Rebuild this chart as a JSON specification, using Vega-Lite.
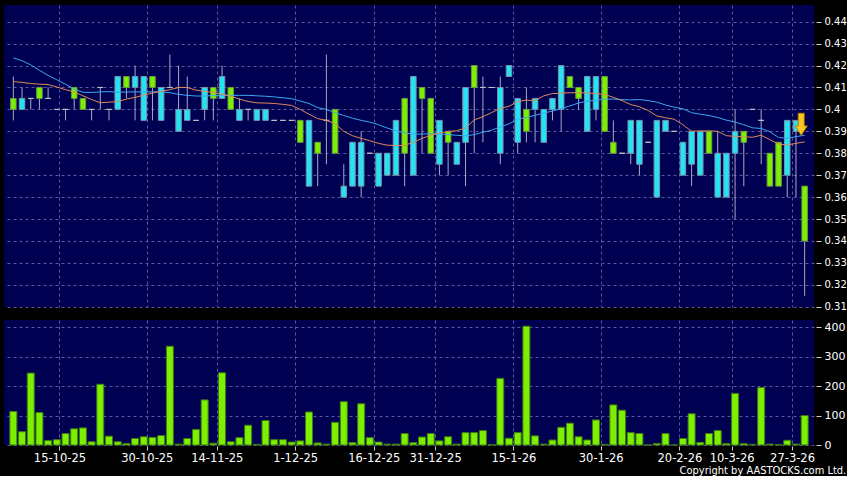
{
  "$schema": "https://vega.github.io/schema/vega-lite/v6.json",
  "background": "#000000",
  "padding": {"left": 4, "top": 5, "right": 0, "bottom": 0},
  "spacing": 8,
  "config": {
    "view": {"fill": "#000052", "stroke": null},
    "axis": {"gridColor": "#5a5a9a", "gridDash": [3, 3], "gridWidth": 1, "labelColor": "#ffffff", "tickColor": "#d0d0d0", "domain": false, "labelFont": "DejaVu Sans", "title": null}
  },
  "title": {"text": "Copyright by AASTOCKS.com Ltd.", "orient": "bottom", "anchor": "end", "color": "#ffffff", "fontSize": 11, "font": "Liberation Sans Narrow, DejaVu Sans Condensed, Liberation Sans", "fontWeight": "normal", "offset": 1},
  "datasets": {
    "d": [
      {"i": 0, "o": 0.400, "h": 0.415, "l": 0.395, "c": 0.405, "v": 114, "m1": 0.4127, "m2": 0.4235},
      {"i": 1, "o": 0.405, "h": 0.410, "l": 0.400, "c": 0.400, "v": 45, "m1": 0.4123, "m2": 0.4222},
      {"i": 2, "o": 0.405, "h": 0.405, "l": 0.400, "c": 0.405, "v": 244, "m1": 0.4118, "m2": 0.4203},
      {"i": 3, "o": 0.405, "h": 0.410, "l": 0.400, "c": 0.410, "v": 110, "m1": 0.4115, "m2": 0.4178},
      {"i": 4, "o": 0.405, "h": 0.410, "l": 0.405, "c": 0.405, "v": 15, "m1": 0.4113, "m2": 0.4155},
      {"i": 5, "o": 0.400, "h": 0.400, "l": 0.400, "c": 0.400, "v": 18, "m1": 0.4102, "m2": 0.4135},
      {"i": 6, "o": 0.400, "h": 0.400, "l": 0.395, "c": 0.400, "v": 39, "m1": 0.4090, "m2": 0.4115},
      {"i": 7, "o": 0.405, "h": 0.410, "l": 0.400, "c": 0.410, "v": 55, "m1": 0.4080, "m2": 0.4092},
      {"i": 8, "o": 0.400, "h": 0.405, "l": 0.400, "c": 0.405, "v": 58, "m1": 0.4062, "m2": 0.4078},
      {"i": 9, "o": 0.400, "h": 0.400, "l": 0.395, "c": 0.400, "v": 11, "m1": 0.4045, "m2": 0.4077},
      {"i": 10, "o": 0.410, "h": 0.410, "l": 0.400, "c": 0.410, "v": 206, "m1": 0.4030, "m2": 0.4080},
      {"i": 11, "o": 0.400, "h": 0.400, "l": 0.395, "c": 0.400, "v": 30, "m1": 0.4033, "m2": 0.4081},
      {"i": 12, "o": 0.415, "h": 0.415, "l": 0.400, "c": 0.400, "v": 11, "m1": 0.4036, "m2": 0.4078},
      {"i": 13, "o": 0.410, "h": 0.415, "l": 0.405, "c": 0.415, "v": 5, "m1": 0.4047, "m2": 0.4079},
      {"i": 14, "o": 0.415, "h": 0.420, "l": 0.395, "c": 0.410, "v": 22, "m1": 0.4055, "m2": 0.4080},
      {"i": 15, "o": 0.415, "h": 0.415, "l": 0.395, "c": 0.395, "v": 28, "m1": 0.4065, "m2": 0.4080},
      {"i": 16, "o": 0.410, "h": 0.415, "l": 0.395, "c": 0.415, "v": 26, "m1": 0.4075, "m2": 0.4080},
      {"i": 17, "o": 0.410, "h": 0.410, "l": 0.395, "c": 0.395, "v": 32, "m1": 0.4082, "m2": 0.4080},
      {"i": 18, "o": 0.410, "h": 0.425, "l": 0.410, "c": 0.410, "v": 335, "m1": 0.4090, "m2": 0.4076},
      {"i": 19, "o": 0.400, "h": 0.420, "l": 0.390, "c": 0.390, "v": 3, "m1": 0.4100, "m2": 0.4069},
      {"i": 20, "o": 0.400, "h": 0.415, "l": 0.395, "c": 0.395, "v": 22, "m1": 0.4100, "m2": 0.4064},
      {"i": 21, "o": 0.395, "h": 0.395, "l": 0.395, "c": 0.395, "v": 53, "m1": 0.4088, "m2": 0.4061},
      {"i": 22, "o": 0.410, "h": 0.410, "l": 0.395, "c": 0.400, "v": 153, "m1": 0.4082, "m2": 0.4061},
      {"i": 23, "o": 0.405, "h": 0.410, "l": 0.395, "c": 0.410, "v": 6, "m1": 0.4077, "m2": 0.4063},
      {"i": 24, "o": 0.415, "h": 0.420, "l": 0.405, "c": 0.405, "v": 245, "m1": 0.4069, "m2": 0.4064},
      {"i": 25, "o": 0.400, "h": 0.410, "l": 0.400, "c": 0.410, "v": 11, "m1": 0.4060, "m2": 0.4064},
      {"i": 26, "o": 0.400, "h": 0.405, "l": 0.395, "c": 0.395, "v": 25, "m1": 0.4047, "m2": 0.4064},
      {"i": 27, "o": 0.400, "h": 0.400, "l": 0.395, "c": 0.400, "v": 67, "m1": 0.4036, "m2": 0.4064},
      {"i": 28, "o": 0.400, "h": 0.400, "l": 0.395, "c": 0.395, "v": 2, "m1": 0.4030, "m2": 0.4062},
      {"i": 29, "o": 0.400, "h": 0.400, "l": 0.395, "c": 0.395, "v": 83, "m1": 0.4029, "m2": 0.4060},
      {"i": 30, "o": 0.395, "h": 0.395, "l": 0.395, "c": 0.395, "v": 18, "m1": 0.4027, "m2": 0.4057},
      {"i": 31, "o": 0.395, "h": 0.395, "l": 0.395, "c": 0.395, "v": 18, "m1": 0.4023, "m2": 0.4053},
      {"i": 32, "o": 0.395, "h": 0.395, "l": 0.395, "c": 0.395, "v": 10, "m1": 0.4018, "m2": 0.4049},
      {"i": 33, "o": 0.385, "h": 0.395, "l": 0.385, "c": 0.395, "v": 14, "m1": 0.4000, "m2": 0.4038},
      {"i": 34, "o": 0.395, "h": 0.395, "l": 0.365, "c": 0.365, "v": 112, "m1": 0.3978, "m2": 0.4027},
      {"i": 35, "o": 0.380, "h": 0.385, "l": 0.365, "c": 0.385, "v": 7, "m1": 0.3958, "m2": 0.4008},
      {"i": 36, "o": 0.395, "h": 0.425, "l": 0.375, "c": 0.395, "v": 3, "m1": 0.3950, "m2": 0.4000},
      {"i": 37, "o": 0.380, "h": 0.400, "l": 0.380, "c": 0.400, "v": 77, "m1": 0.3935, "m2": 0.3985},
      {"i": 38, "o": 0.365, "h": 0.375, "l": 0.360, "c": 0.360, "v": 147, "m1": 0.3900, "m2": 0.3972},
      {"i": 39, "o": 0.385, "h": 0.385, "l": 0.365, "c": 0.365, "v": 8, "m1": 0.3880, "m2": 0.3960},
      {"i": 40, "o": 0.385, "h": 0.390, "l": 0.360, "c": 0.365, "v": 140, "m1": 0.3868, "m2": 0.3950},
      {"i": 41, "o": 0.380, "h": 0.380, "l": 0.380, "c": 0.380, "v": 25, "m1": 0.3857, "m2": 0.3942},
      {"i": 42, "o": 0.380, "h": 0.380, "l": 0.365, "c": 0.365, "v": 10, "m1": 0.3845, "m2": 0.3930},
      {"i": 43, "o": 0.380, "h": 0.380, "l": 0.370, "c": 0.370, "v": 3, "m1": 0.3837, "m2": 0.3915},
      {"i": 44, "o": 0.395, "h": 0.395, "l": 0.370, "c": 0.370, "v": 3, "m1": 0.3835, "m2": 0.3902},
      {"i": 45, "o": 0.380, "h": 0.405, "l": 0.365, "c": 0.405, "v": 39, "m1": 0.3836, "m2": 0.3893},
      {"i": 46, "o": 0.415, "h": 0.415, "l": 0.370, "c": 0.370, "v": 8, "m1": 0.3850, "m2": 0.3887},
      {"i": 47, "o": 0.405, "h": 0.410, "l": 0.380, "c": 0.410, "v": 27, "m1": 0.3868, "m2": 0.3888},
      {"i": 48, "o": 0.380, "h": 0.405, "l": 0.380, "c": 0.405, "v": 39, "m1": 0.3882, "m2": 0.3889},
      {"i": 49, "o": 0.395, "h": 0.395, "l": 0.370, "c": 0.375, "v": 14, "m1": 0.3892, "m2": 0.3888},
      {"i": 50, "o": 0.385, "h": 0.390, "l": 0.370, "c": 0.390, "v": 28, "m1": 0.3899, "m2": 0.3885},
      {"i": 51, "o": 0.385, "h": 0.385, "l": 0.375, "c": 0.375, "v": 3, "m1": 0.3903, "m2": 0.3882},
      {"i": 52, "o": 0.410, "h": 0.410, "l": 0.365, "c": 0.385, "v": 42, "m1": 0.3915, "m2": 0.3879},
      {"i": 53, "o": 0.410, "h": 0.420, "l": 0.380, "c": 0.420, "v": 42, "m1": 0.3952, "m2": 0.3885},
      {"i": 54, "o": 0.410, "h": 0.415, "l": 0.385, "c": 0.410, "v": 49, "m1": 0.3967, "m2": 0.3896},
      {"i": 55, "o": 0.410, "h": 0.410, "l": 0.410, "c": 0.410, "v": 1, "m1": 0.3985, "m2": 0.3905},
      {"i": 56, "o": 0.410, "h": 0.415, "l": 0.375, "c": 0.380, "v": 226, "m1": 0.4005, "m2": 0.3920},
      {"i": 57, "o": 0.420, "h": 0.420, "l": 0.415, "c": 0.415, "v": 23, "m1": 0.4014, "m2": 0.3934},
      {"i": 58, "o": 0.405, "h": 0.405, "l": 0.380, "c": 0.385, "v": 42, "m1": 0.4036, "m2": 0.3955},
      {"i": 59, "o": 0.390, "h": 0.410, "l": 0.385, "c": 0.400, "v": 403, "m1": 0.4042, "m2": 0.3963},
      {"i": 60, "o": 0.405, "h": 0.405, "l": 0.385, "c": 0.400, "v": 31, "m1": 0.4040, "m2": 0.3973},
      {"i": 61, "o": 0.400, "h": 0.400, "l": 0.385, "c": 0.385, "v": 3, "m1": 0.4062, "m2": 0.3983},
      {"i": 62, "o": 0.405, "h": 0.405, "l": 0.395, "c": 0.400, "v": 17, "m1": 0.4072, "m2": 0.3993},
      {"i": 63, "o": 0.420, "h": 0.420, "l": 0.390, "c": 0.400, "v": 60, "m1": 0.4074, "m2": 0.4003},
      {"i": 64, "o": 0.410, "h": 0.415, "l": 0.410, "c": 0.415, "v": 74, "m1": 0.4076, "m2": 0.4016},
      {"i": 65, "o": 0.405, "h": 0.410, "l": 0.400, "c": 0.410, "v": 28, "m1": 0.4076, "m2": 0.4029},
      {"i": 66, "o": 0.415, "h": 0.415, "l": 0.390, "c": 0.390, "v": 17, "m1": 0.4075, "m2": 0.4038},
      {"i": 67, "o": 0.415, "h": 0.415, "l": 0.395, "c": 0.400, "v": 85, "m1": 0.4072, "m2": 0.4041},
      {"i": 68, "o": 0.390, "h": 0.415, "l": 0.390, "c": 0.415, "v": 2, "m1": 0.4068, "m2": 0.4047},
      {"i": 69, "o": 0.380, "h": 0.395, "l": 0.380, "c": 0.385, "v": 136, "m1": 0.4055, "m2": 0.4047},
      {"i": 70, "o": 0.380, "h": 0.380, "l": 0.380, "c": 0.380, "v": 118, "m1": 0.4040, "m2": 0.4045},
      {"i": 71, "o": 0.395, "h": 0.395, "l": 0.375, "c": 0.380, "v": 42, "m1": 0.4022, "m2": 0.4043},
      {"i": 72, "o": 0.395, "h": 0.395, "l": 0.370, "c": 0.375, "v": 39, "m1": 0.4012, "m2": 0.4045},
      {"i": 73, "o": 0.385, "h": 0.385, "l": 0.385, "c": 0.385, "v": 0, "m1": 0.3995, "m2": 0.4040},
      {"i": 74, "o": 0.395, "h": 0.395, "l": 0.360, "c": 0.360, "v": 5, "m1": 0.3970, "m2": 0.4033},
      {"i": 75, "o": 0.395, "h": 0.395, "l": 0.390, "c": 0.390, "v": 39, "m1": 0.3962, "m2": 0.4020},
      {"i": 76, "o": 0.390, "h": 0.390, "l": 0.390, "c": 0.390, "v": 0, "m1": 0.3955, "m2": 0.4010},
      {"i": 77, "o": 0.385, "h": 0.385, "l": 0.370, "c": 0.370, "v": 22, "m1": 0.3930, "m2": 0.4003},
      {"i": 78, "o": 0.390, "h": 0.390, "l": 0.365, "c": 0.375, "v": 106, "m1": 0.3900, "m2": 0.3985},
      {"i": 79, "o": 0.390, "h": 0.390, "l": 0.370, "c": 0.370, "v": 9, "m1": 0.3902, "m2": 0.3978},
      {"i": 80, "o": 0.380, "h": 0.390, "l": 0.380, "c": 0.390, "v": 39, "m1": 0.3902, "m2": 0.3972},
      {"i": 81, "o": 0.380, "h": 0.390, "l": 0.360, "c": 0.360, "v": 49, "m1": 0.3900, "m2": 0.3963},
      {"i": 82, "o": 0.380, "h": 0.380, "l": 0.360, "c": 0.360, "v": 5, "m1": 0.3880, "m2": 0.3951},
      {"i": 83, "o": 0.390, "h": 0.400, "l": 0.350, "c": 0.380, "v": 175, "m1": 0.3877, "m2": 0.3942},
      {"i": 84, "o": 0.385, "h": 0.390, "l": 0.365, "c": 0.390, "v": 5, "m1": 0.3875, "m2": 0.3930},
      {"i": 85, "o": 0.400, "h": 0.400, "l": 0.400, "c": 0.400, "v": 2, "m1": 0.3873, "m2": 0.3916},
      {"i": 86, "o": 0.395, "h": 0.400, "l": 0.375, "c": 0.395, "v": 195, "m1": 0.3882, "m2": 0.3913},
      {"i": 87, "o": 0.365, "h": 0.380, "l": 0.365, "c": 0.380, "v": 3, "m1": 0.3862, "m2": 0.3898},
      {"i": 88, "o": 0.365, "h": 0.385, "l": 0.365, "c": 0.385, "v": 1, "m1": 0.3842, "m2": 0.3872},
      {"i": 89, "o": 0.395, "h": 0.395, "l": 0.360, "c": 0.370, "v": 16, "m1": 0.3838, "m2": 0.3868},
      {"i": 90, "o": 0.395, "h": 0.395, "l": 0.360, "c": 0.390, "v": 3, "m1": 0.3845, "m2": 0.3876},
      {"i": 91, "o": 0.340, "h": 0.365, "l": 0.315, "c": 0.365, "v": 100, "m1": 0.3852, "m2": 0.3882}
    ],
    "arrow": [{"i": 90.6, "p": 0.3932}]
  },
  "vconcat": [
    {
      "width": 810,
      "height": 302,
      "data": {"name": "d"},
      "layer": [
        {
          "mark": {"type": "rule", "color": "#a8a8c0", "strokeWidth": 1},
          "encoding": {
            "x": {"field": "i", "type": "quantitative", "scale": {"domain": [-0.5, 91.5], "nice": false, "zero": false},
                  "axis": {"values": [5.3, 15.35, 23.4, 32.4, 41.45, 48.5, 57.5, 67.55, 76.6, 82.6, 89.55], "tickCount": 30, "grid": true, "labels": false, "ticks": false, "domain": false}},
            "y": {"field": "l", "type": "quantitative", "scale": {"domain": [0.3099, 0.4476], "nice": false, "zero": false},
                  "axis": {"orient": "right", "values": [0.31, 0.32, 0.33, 0.34, 0.35, 0.36, 0.37, 0.38, 0.39, 0.4, 0.41, 0.42, 0.43, 0.44], "tickCount": 30, "format": ".2~f", "grid": true, "tickSize": 5, "offset": 2, "labelPadding": 3, "labelFontSize": 10, "labelFlush": false, "labelOverlap": false}},
            "y2": {"field": "h"}
          }
        },
        {
          "mark": {"type": "bar", "width": 5.5, "strokeWidth": 1},
          "encoding": {
            "x": {"field": "i", "type": "quantitative"},
            "y": {"field": "o", "type": "quantitative"},
            "y2": {"field": "c"},
            "fill": {"condition": [{"test": "datum.c > datum.o", "value": "#7cf000"}, {"test": "datum.c < datum.o", "value": "#24e4f4"}], "value": "#c0c0c8"},
            "stroke": {"condition": [{"test": "datum.c > datum.o", "value": "#6a9a40"}, {"test": "datum.c < datum.o", "value": "#7890a8"}], "value": "#c0c0c8"}
          }
        },
        {
          "mark": {"type": "line", "color": "#3aa8f0", "strokeWidth": 1},
          "encoding": {"x": {"field": "i", "type": "quantitative"}, "y": {"field": "m2", "type": "quantitative"}}
        },
        {
          "mark": {"type": "line", "color": "#e08a58", "strokeWidth": 1},
          "encoding": {"x": {"field": "i", "type": "quantitative"}, "y": {"field": "m1", "type": "quantitative"}}
        },
        {
          "data": {"name": "arrow"},
          "mark": {"type": "point", "shape": "M-0.27,-1 L0.27,-1 L0.27,0.15 L0.55,0.15 L0,1 L-0.55,0.15 L-0.27,0.15 Z", "size": 484, "filled": true, "fill": "#f8c820", "stroke": "#c08000", "strokeWidth": 1, "opacity": 1},
          "encoding": {"x": {"field": "i", "type": "quantitative"}, "y": {"field": "p", "type": "quantitative"}}
        }
      ]
    },
    {
      "width": 810,
      "height": 125,
      "data": {"name": "d"},
      "mark": {"type": "bar", "width": 7, "fill": "#7cf000", "stroke": "#3f7a10", "strokeWidth": 1},
      "encoding": {
        "x": {"field": "i", "type": "quantitative", "scale": {"domain": [-0.5, 91.5], "nice": false, "zero": false},
              "axis": {"values": [5.3, 15.35, 23.4, 32.4, 41.45, 48.5, 57.5, 67.55, 76.6, 82.6, 89.55], "tickCount": 30,
                       "labelExpr": "['15-10-25','30-10-25','14-11-25','1-12-25','16-12-25','31-12-25','15-1-26','30-1-26','20-2-26','10-3-26','27-3-26'][indexof([5.3, 15.35, 23.4, 32.4, 41.45, 48.5, 57.5, 67.55, 76.6, 82.6, 89.55], datum.value)]",
                       "grid": true, "tickSize": 4, "offset": 1, "labelPadding": 2, "labelFontSize": 11.5, "labelFlush": false, "labelOverlap": false}},
        "y": {"field": "v", "type": "quantitative", "scale": {"domain": [0, 424], "nice": false},
              "axis": {"orient": "right", "values": [0, 100, 200, 300, 400], "tickCount": 10, "grid": true, "tickSize": 5, "offset": 2, "labelPadding": 3, "labelFontSize": 11, "labelFlush": false, "labelOverlap": false}}
      }
    }
  ]
}
